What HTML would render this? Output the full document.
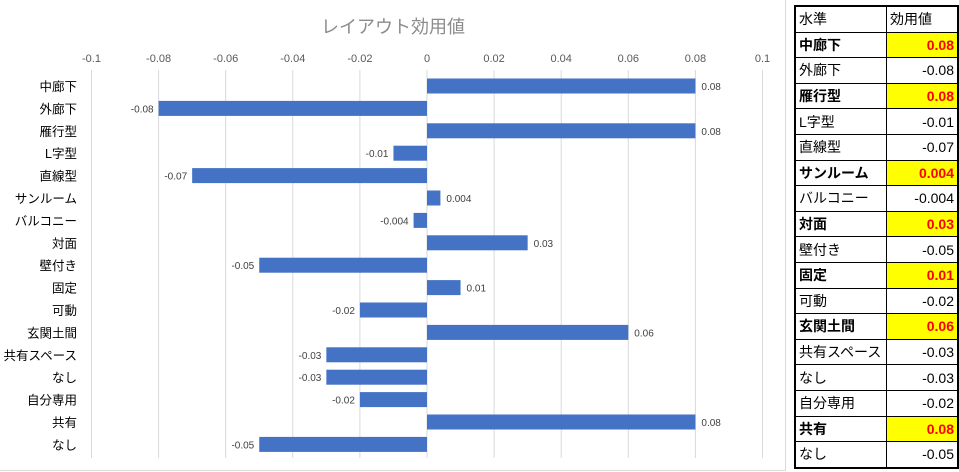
<!DOCTYPE html>
<html><head><meta charset="utf-8"><style>
body{margin:0;width:959px;height:472px;background:#fff;overflow:hidden;font-family:"Liberation Sans","Noto Sans CJK JP",sans-serif;}
#chart{position:absolute;left:0;top:0;}
table{position:absolute;left:794px;top:5px;border-collapse:collapse;font-size:14px;}
td{border:1px solid #000;height:24.6px;padding:0 3px;line-height:1;}
td.v{text-align:right;width:64px;}
td.k{width:84px;}
tr.b td{font-weight:bold;}
tr.b td.v{background:#ffff00;color:#ff0000;}
table{border:2px solid #000;}
</style></head><body>
<svg id="chart" width="785" height="470" style="border-right:1px solid #d9d9d9;border-bottom:1px solid #d9d9d9">
<text x="393" y="33" text-anchor="middle" font-size="18" fill="#8c8c8c">レイアウト効用値</text>
<g id="grid"></g><g id="bars"></g>
</svg>
<table>
<tr><td class="k">水準</td><td class="v" style="text-align:left">効用値</td></tr>
<tr class="b"><td class="k">中廊下</td><td class="v">0.08</td></tr>
<tr><td class="k">外廊下</td><td class="v">-0.08</td></tr>
<tr class="b"><td class="k">雁行型</td><td class="v">0.08</td></tr>
<tr><td class="k">L字型</td><td class="v">-0.01</td></tr>
<tr><td class="k">直線型</td><td class="v">-0.07</td></tr>
<tr class="b"><td class="k">サンルーム</td><td class="v">0.004</td></tr>
<tr><td class="k">バルコニー</td><td class="v">-0.004</td></tr>
<tr class="b"><td class="k">対面</td><td class="v">0.03</td></tr>
<tr><td class="k">壁付き</td><td class="v">-0.05</td></tr>
<tr class="b"><td class="k">固定</td><td class="v">0.01</td></tr>
<tr><td class="k">可動</td><td class="v">-0.02</td></tr>
<tr class="b"><td class="k">玄関土間</td><td class="v">0.06</td></tr>
<tr><td class="k">共有スペース</td><td class="v">-0.03</td></tr>
<tr><td class="k">なし</td><td class="v">-0.03</td></tr>
<tr><td class="k">自分専用</td><td class="v">-0.02</td></tr>
<tr class="b"><td class="k">共有</td><td class="v">0.08</td></tr>
<tr><td class="k">なし</td><td class="v">-0.05</td></tr>
</table>
<script>
const categories=["中廊下","外廊下","雁行型","L字型","直線型","サンルーム","バルコニー","対面","壁付き","固定","可動","玄関土間","共有スペース","なし","自分専用","共有","なし"];
const values=[0.08,-0.08,0.08,-0.01,-0.07,0.004,-0.004,0.03,-0.05,0.01,-0.02,0.06,-0.03,-0.03,-0.02,0.08,-0.05];
const valueLabels=["0.08","-0.08","0.08","-0.01","-0.07","0.004","-0.004","0.03","-0.05","0.01","-0.02","0.06","-0.03","-0.03","-0.02","0.08","-0.05"];
const ticks=[-0.1,-0.08,-0.06,-0.04,-0.02,0,0.02,0.04,0.06,0.08,0.1];
const tickLabels=["-0.1","-0.08","-0.06","-0.04","-0.02","0","0.02","0.04","0.06","0.08","0.1"];
const NS="http://www.w3.org/2000/svg";
const x=v=>427+v*3355;
const y=i=>86+i*22.4;
const grid=document.getElementById('grid'),bars=document.getElementById('bars');
function mk(t,a,p){const e=document.createElementNS(NS,t);for(const k in a)e.setAttribute(k,a[k]);p.appendChild(e);return e;}
ticks.forEach((t,i)=>{
 const l=mk('line',{x1:x(t),x2:x(t),y1:70,y2:458,stroke:'#d9d9d9','stroke-width':1},grid);
 
 
 const tx=mk('text',{x:x(t),y:62,'text-anchor':'middle','font-size':11,fill:'#595959'},grid);
 tx.textContent=tickLabels[i];
 
 
});
categories.forEach((c,i)=>{
 const v=values[i],cy=y(i);
 const r=mk('rect',{x:Math.min(x(0),x(v)),y:cy-7.5,width:Math.abs(x(v)-x(0)),height:15,fill:'#4472c4'},bars);
 
 
 const cl=mk('text',{x:77,y:cy+5,'text-anchor':'end','font-size':12.5,fill:'#000'},bars);
 cl.textContent=c;
 
 
 const vl=mk('text',{x:v>=0?x(v)+6:x(v)-5,y:cy+4,'text-anchor':v>=0?'start':'end','font-size':10,fill:'#404040'},bars);
 vl.textContent=valueLabels[i];
 
 
});
</script>
</body></html>
